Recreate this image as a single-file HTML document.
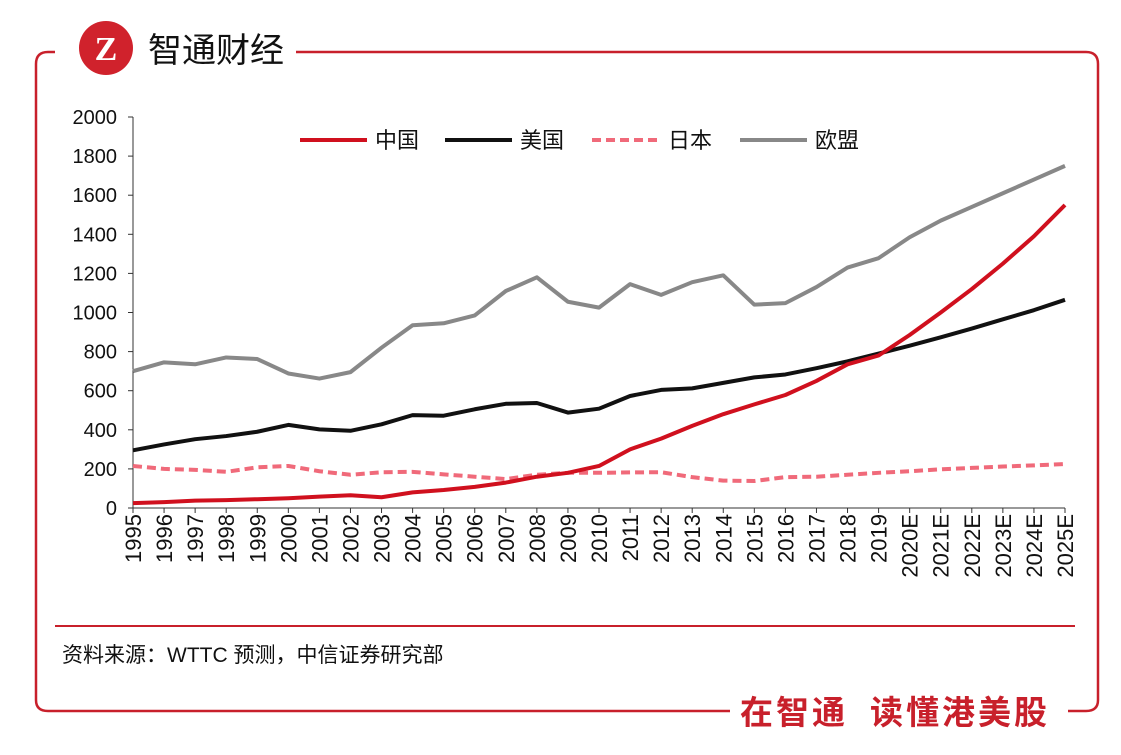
<!DOCTYPE html>
<html><head><meta charset="utf-8"><style>
body{margin:0;background:#fff;width:1121px;height:750px;overflow:hidden;font-family:"Liberation Sans","Noto Sans CJK SC",sans-serif}
</style></head><body>
<svg width="1121" height="750" xmlns="http://www.w3.org/2000/svg" font-family="Liberation Sans, Noto Sans CJK SC, sans-serif">
<g fill="none" stroke="#c8202b" stroke-width="2.5">
<path d="M55,52 H48 Q36,52 36,64 V700 Q36,711 48,711 H730"/>
<path d="M296,52 H1086 Q1098,52 1098,64 V700 Q1098,711 1086,711 H1068"/>
</g>
<circle cx="106" cy="48" r="27" fill="#d0222c"/>
<text x="106" y="60" text-anchor="middle" font-size="34" font-weight="bold" fill="#fff" font-family="Liberation Serif, serif">Z</text>
<text x="148" y="62" font-size="34" fill="#111">智通财经</text>
<text x="740" y="724" font-size="33" font-weight="bold" fill="#c8202b" letter-spacing="3">在智通<tspan dx="22">读懂港美股</tspan></text>
<line x1="55" y1="626" x2="1075" y2="626" stroke="#c8202b" stroke-width="2"/>
<text x="62" y="662" font-size="21" fill="#111">资料来源：WTTC 预测，中信证券研究部</text>
<g id="axes"></g>
<g id="series"></g>
<g font-size="22" fill="#111">
<line x1="300" y1="140" x2="367" y2="140" stroke="#d0101e" stroke-width="4"/><text x="375" y="148">中国</text>
<line x1="445" y1="140" x2="512" y2="140" stroke="#111" stroke-width="4"/><text x="520" y="148">美国</text>
<line x1="592" y1="140" x2="659" y2="140" stroke="#f06a7a" stroke-width="4" stroke-dasharray="9,5"/><text x="668" y="148">日本</text>
<line x1="740" y1="140" x2="807" y2="140" stroke="#888" stroke-width="4"/><text x="815" y="148">欧盟</text>
</g>
</svg>
<script>
const years=["1995","1996","1997","1998","1999","2000","2001","2002","2003","2004","2005","2006","2007","2008","2009","2010","2011","2012","2013","2014","2015","2016","2017","2018","2019","2020E","2021E","2022E","2023E","2024E","2025E"];
const china=[25,30,38,40,45,50,58,65,55,80,92,108,130,160,180,215,300,355,420,480,530,578,650,735,780,885,1000,1120,1250,1390,1550];
const usa=[295,325,352,368,390,425,402,395,428,475,472,505,533,537,488,508,573,604,612,640,668,683,715,750,790,830,873,918,965,1012,1065];
const japan=[215,200,195,185,208,215,188,170,183,185,172,160,148,170,180,180,182,183,158,140,138,158,160,170,180,188,198,205,212,218,225];
const eu=[700,745,735,770,762,688,662,695,820,935,945,985,1110,1180,1055,1025,1145,1090,1155,1190,1040,1048,1130,1230,1278,1385,1470,1540,1610,1680,1750];
const yTicks=[0,200,400,600,800,1000,1200,1400,1600,1800,2000];
const NS="http://www.w3.org/2000/svg";
const x0=133,x1=1065,yb=508,yt=117;
const xs=i=>x0+(x1-x0)*i/(years.length-1);
const ys=v=>yb-(yb-yt)*v/2000;
function mk(t,a,p){const e=document.createElementNS(NS,t);for(const k in a)e.setAttribute(k,a[k]);p.appendChild(e);return e;}
const ax=document.getElementById('axes');
const yl=mk('line',{x1:x0,y1:yt,x2:x0,y2:yb,stroke:'#333','stroke-width':1},ax);


const xl=mk('line',{x1:x0,y1:yb,x2:x1,y2:yb,stroke:'#333','stroke-width':1},ax);


yTicks.forEach(v=>{
 mk('line',{x1:x0-5,y1:ys(v),x2:x0,y2:ys(v),stroke:'#333'},ax);
 const t=mk('text',{x:117,y:ys(v)+7,'text-anchor':'end','font-size':20,fill:'#111'},ax);
 t.textContent=v;
 
 
});
years.forEach((y,i)=>{
 mk('line',{x1:xs(i),y1:yb,x2:xs(i),y2:yb+5,stroke:'#333'},ax);
 const t=mk('text',{transform:`translate(${xs(i)+8},514) rotate(-90)`,'text-anchor':'end','font-size':22,fill:'#111'},ax);
 t.textContent=y;
 
 
});
const sg=document.getElementById('series');
function line(d,c,name,dash){
 const p=mk('polyline',{points:d.map((v,i)=>xs(i)+','+ys(v)).join(' '),fill:'none',stroke:c,'stroke-width':4,'stroke-linejoin':'round'},sg);
 if(dash)p.setAttribute('stroke-dasharray',dash);
 
 
}
line(eu,'#888','line-eu');
line(usa,'#111','line-usa');
line(japan,'#f06a7a','line-japan','9,5');
line(china,'#d0101e','line-china');
</script>
</body></html>
